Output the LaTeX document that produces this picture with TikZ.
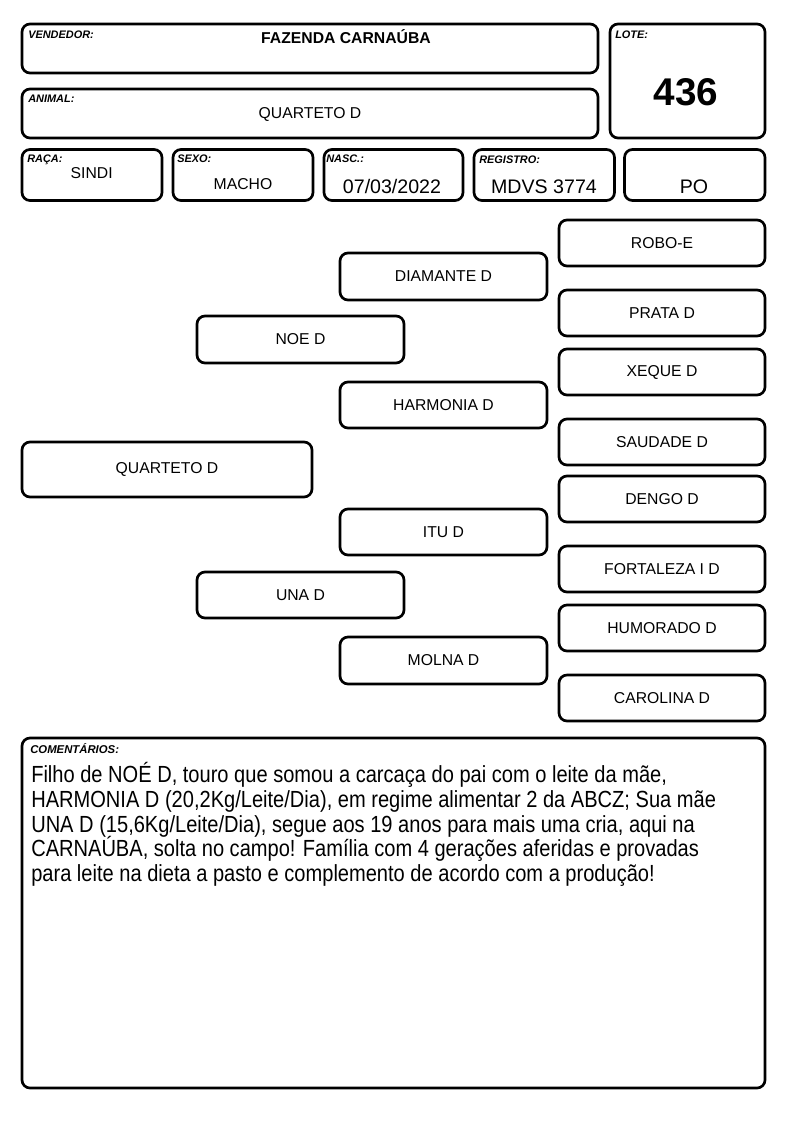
\documentclass[tikz,border=0pt]{standalone}
\usepackage{fontspec}
\setmainfont{Liberation Sans}
\newfontfamily\narrowfont[FakeStretch=0.86]{Liberation Sans}
\usetikzlibrary{fit}
\setlength{\lineskiplimit}{-20pt}

\begin{document}
\begin{tikzpicture}[x=0.75pt, y=-0.75pt,
    caixa/.style={draw, line width=2pt, rounded corners=6pt, inner sep=0pt},
    rotulo/.style={anchor=base west, inner sep=0pt, font=\fontsize{8.2}{9}\selectfont\bfseries\itshape},
    valor/.style={anchor=base, inner sep=0pt, font=\fontsize{11.8}{14}\selectfont},
    nome/.style={font=\fontsize{11.8}{14}\selectfont}]
    \useasboundingbox (0,0) rectangle (794,1123);
    % cabecalho
    \node[caixa, fit={(22,24) (598,73)}] (vendedor) {};
    \node[caixa, fit={(22,89) (598,138)}] (animal) {};
    \node[caixa, fit={(610,24) (765,138)}] (lote) {};
    \node[caixa, fit={(22,149.5) (162,200.5)}] (raca) {};
    \node[caixa, fit={(173,149.5) (313,200.5)}] (sexo) {};
    \node[caixa, fit={(324,149.5) (463,200.5)}] (nasc) {};
    \node[caixa, fit={(474,149.5) (614.5,200.5)}] (registro) {};
    \node[caixa, fit={(624.5,149.5) (765,200.5)}] (categoria) {};
    \node[rotulo] (lvendedor) at (28,39) {VENDEDOR:};
    \node[rotulo] (lanimal) at (28,103) {ANIMAL:};
    \node[rotulo] (llote) at (615,39) {LOTE:};
    \node[rotulo] (lraca) at (27,163) {RAÇA:};
    \node[rotulo] (lsexo) at (177,163) {SEXO:};
    \node[rotulo] (lnasc) at (326,163) {NASC.:};
    \node[rotulo] (lregistro) at (479,163.5) {REGISTRO:};
    \node[valor, font=\fontsize{11.8}{14}\selectfont\bfseries] (tvendedor) at (346,43.3) {FAZENDA CARNAÚBA};
    \node[valor] (tanimal) at (310,119) {QUARTETO D};
    \node[valor, font=\fontsize{29}{32}\selectfont\bfseries] (tlote) at (686,105.3) {436};
    \node[valor] (traca) at (91.7,178.3) {SINDI};
    \node[valor] (tsexo) at (243,189.3) {MACHO};
    \node[valor, font=\fontsize{14.7}{17}\selectfont] (tnasc) at (392,193.3) {07/03/2022};
    \node[valor, font=\fontsize{14.7}{17}\selectfont] (tregistro) at (544,193.3) {MDVS 3774};
    \node[valor, font=\fontsize{14.7}{17}\selectfont] (tcategoria) at (694,193.3) {PO};
    % genealogia
    \foreach \id/\txt/\xa/\ya/\xb/\yb in {
        quarteto/QUARTETO D/22/442/312/497,
        noe/NOE D/197/316/404/363, una/UNA D/197/572/404/618,
        diamante/DIAMANTE D/340/253/547/300, harmonia/HARMONIA D/340/382/547/428,
        itu/ITU D/340/509/547/555, molna/MOLNA D/340/637/547/684,
        robo/ROBO-E/559/220/765/266, prata/PRATA D/559/290/765/336,
        xeque/XEQUE D/559/349/765/395, saudade/SAUDADE D/559/419/765/465,
        dengo/DENGO D/559/476/765/522, fortaleza/FORTALEZA I D/559/546/765/592,
        humorado/HUMORADO D/559/605/765/651, carolina/CAROLINA D/559/675/765/721}
        \node[caixa, nome, minimum width={(\xb-\xa)*0.75pt}, minimum height={(\yb-\ya)*0.75pt}]
            (\id) at ({(\xa+\xb)/2},{(\ya+\yb)/2}) {\txt};
    % comentarios
    \node[caixa, fit={(22,738) (765,1088)}] (comentarios) {};
    \node[rotulo, font=\fontsize{8.5}{9}\selectfont\bfseries\itshape] (lcomentarios) at (30,753) {COMENTÁRIOS:};
    \node[anchor=north west, inner sep=0pt, align=left,
          font=\narrowfont\fontsize{17.5}{18.6}\selectfont] (tcomentarios) at (31,762)
        {Filho de NOÉ D, touro que somou a carcaça do pai com o leite da mãe,\\
         HARMONIA D (20,2Kg/Leite/Dia), em regime alimentar 2 da ABCZ; Sua mãe\\
         UNA D (15,6Kg/Leite/Dia), segue aos 19 anos para mais uma cria, aqui na\\
         CARNAÚBA, solta no campo! Família com 4 gerações aferidas e provadas\\
         para leite na dieta a pasto e complemento de acordo com a produção!};
\end{tikzpicture}
\end{document}
